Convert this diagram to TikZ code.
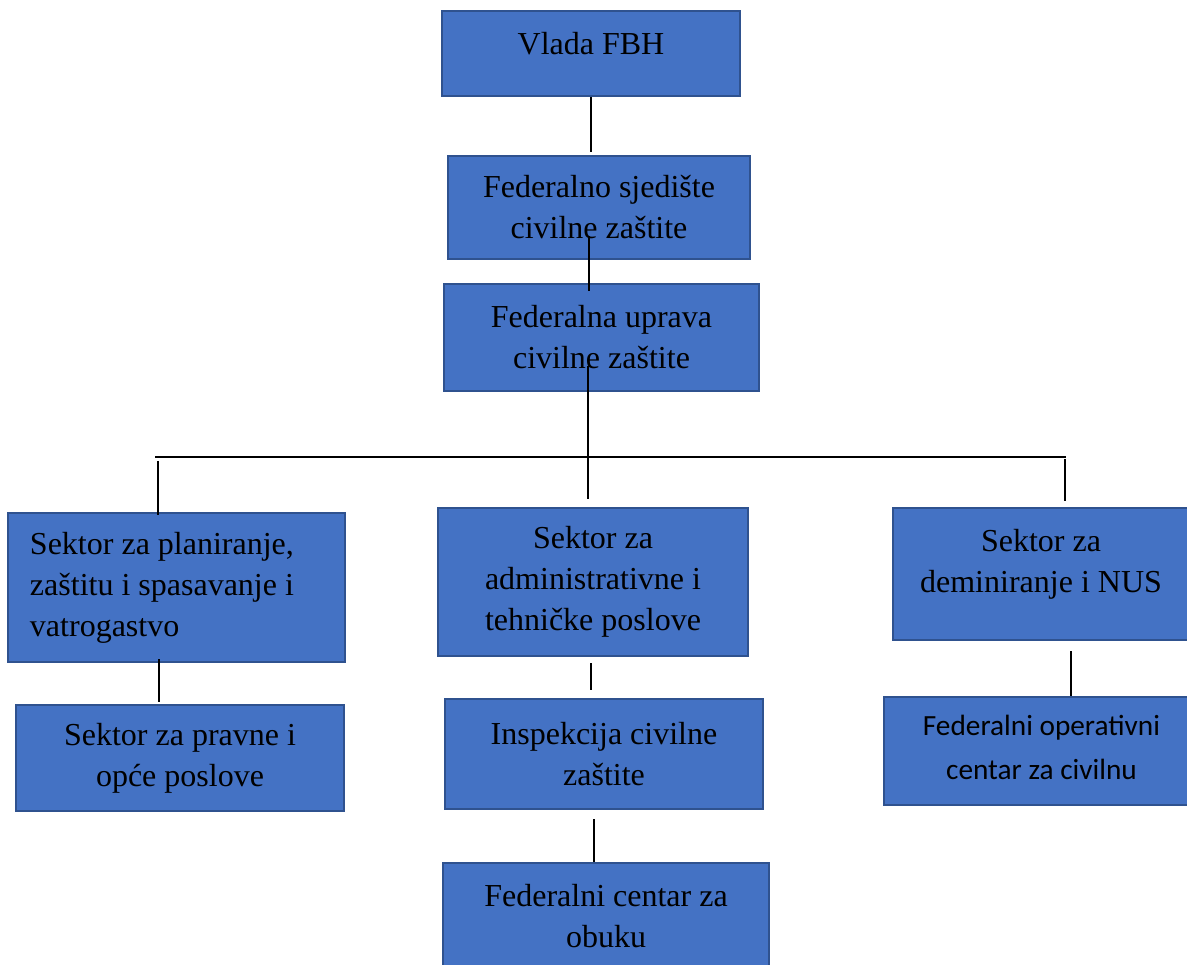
\documentclass[tikz,border=0pt]{standalone}
\usepackage{fontspec}
\setmainfont{Liberation Serif}
\newfontfamily\calibri{Carlito}
\definecolor{boxblue}{HTML}{4472C4}
\definecolor{boxedge}{HTML}{2F528F}
\begin{document}
\begin{tikzpicture}[x=1pt,y=-1pt,
  box/.style={draw=boxedge,fill=boxblue,line width=2pt,inner sep=0pt,align=center,
    font=\fontsize{32}{41}\selectfont},
  link/.style={line width=1.3pt}]
\useasboundingbox (0,0) rectangle (1187,965);
\node [box,minimum width=298,minimum height=85,text depth=21pt] (vlada) at (591,53.5) {Vlada FBH};
\node [box,minimum width=302,minimum height=103] (sjediste) at (599,207.5) {Federalno sjedište\\civilne zaštite};
\node [box,minimum width=315,minimum height=107] (uprava) at (601.5,337.5) {Federalna uprava\\civilne zaštite};
\node [box,minimum width=337,minimum height=149,text width=293pt,align=flush left] (planiranje) at (176.5,587.5)
  {Sektor za planiranje,\\zaštitu i spasavanje i\\vatrogastvo};
\node [box,minimum width=310,minimum height=148] (administrativne) at (593,582)
  {Sektor za\\administrativne i\\tehničke poslove};
\node [box,minimum width=296,minimum height=132,text depth=27pt] (deminiranje) at (1041,574)
  {Sektor za\\deminiranje i NUS};
\node [box,minimum width=328,minimum height=106] (pravne) at (180,758) {Sektor za pravne i\\opće poslove};
\node [box,minimum width=318,minimum height=110] (inspekcija) at (604,754) {Inspekcija civilne\\zaštite};
\node [box,minimum width=326,minimum height=106] (obuku) at (606,916) {Federalni centar za\\obuku};
\node [box,minimum width=315,minimum height=108,text depth=7pt,font=\calibri\fontsize{29.3}{44}\selectfont] (operativni) at (1041.5,751)
  {Federalni operativni\\centar za civilnu};
% bus line
\coordinate (busL) at (155,457);
\coordinate (busR) at (1066,457);
\draw [link,shorten >=3pt] (vlada.south) -- (vlada.south |- sjediste.north);
\draw [link,shorten <=-24pt,shorten >=-8pt] ([xshift=-10pt]sjediste.south) -- ([xshift=-10pt]sjediste.south |- uprava.north);
\draw [link,shorten <=-26pt,shorten >=8pt] ([xshift=-13.5pt]uprava.south) -- ([xshift=-13.5pt]uprava.south |- administrativne.north);
\draw [link] (busL) -- (busR);
\draw [link,shorten <=4pt,shorten >=-3pt] ([xshift=3pt]busL) -- ([xshift=3pt]busL |- planiranje.north);
\draw [link,shorten <=2pt,shorten >=6pt] ([xshift=-1pt]busR) -- ([xshift=-1pt]busR |- deminiranje.north);
\draw [link,shorten <=-4pt,shorten >=2pt] ([xshift=-17.5pt]planiranje.south) -- ([xshift=-17.5pt]planiranje.south |- pravne.north);
\draw [link,shorten <=6pt,shorten >=8pt] ([xshift=-2pt]administrativne.south) -- ([xshift=-2pt]administrativne.south |- inspekcija.north);
\draw [link,shorten <=9pt] ([xshift=-10pt]inspekcija.south) -- ([xshift=-10pt]inspekcija.south |- obuku.north);
\draw [link,shorten <=10pt] ([xshift=30pt]deminiranje.south) -- ([xshift=30pt]deminiranje.south |- operativni.north);
\end{tikzpicture}
\end{document}
